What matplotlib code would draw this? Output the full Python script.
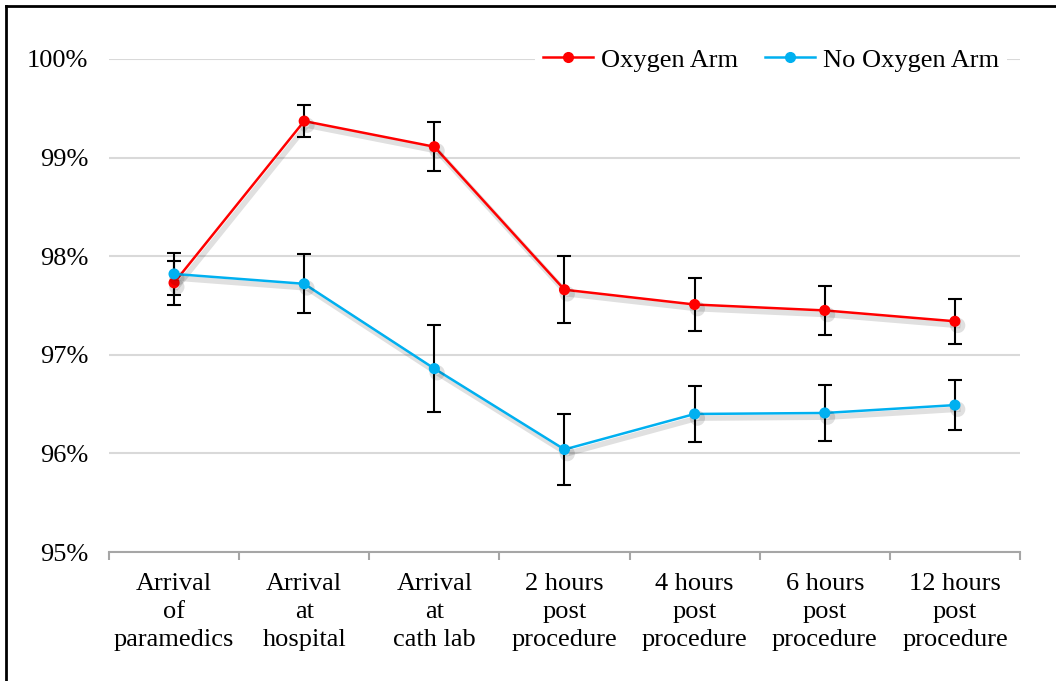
import matplotlib
matplotlib.use("Agg")
import matplotlib.pyplot as plt
import matplotlib.patheffects as pe
from matplotlib.lines import Line2D
import numpy as np

# Oxygen saturation by time point (mean, +/- error)
categories = ["Arrival\nof\nparamedics", "Arrival\nat\nhospital", "Arrival\nat\ncath lab",
              "2 hours\npost\nprocedure", "4 hours\npost\nprocedure",
              "6 hours\npost\nprocedure", "12 hours\npost\nprocedure"]
oxygen_mean = [97.73, 99.37, 99.11, 97.66, 97.51, 97.45, 97.34]
oxygen_err = [0.22, 0.16, 0.25, 0.34, 0.27, 0.25, 0.23]
no_oxygen_mean = [97.82, 97.72, 96.86, 96.04, 96.40, 96.41, 96.49]
no_oxygen_err = [0.21, 0.30, 0.44, 0.36, 0.28, 0.28, 0.25]
y_ticks = [95, 96, 97, 98, 99, 100]

plt.rcParams["font.family"] = ["Liberation Serif", "DejaVu Serif"]

fig = plt.figure(figsize=(10.56, 6.81), dpi=100)
ax = fig.add_axes([0.1032, 0.1894, 0.8627, 0.724])

x = np.arange(len(categories))
# soft drop shadow under the lines, like the original spreadsheet chart
shadow = [pe.SimpleLineShadow(offset=(2, -3), alpha=0.12, shadow_color="black", linewidth=4),
          pe.Normal()]

for mean, err, color, label in [(oxygen_mean, oxygen_err, "#ff0000", "Oxygen Arm"),
                                (no_oxygen_mean, no_oxygen_err, "#00b0f0", "No Oxygen Arm")]:
    ax.errorbar(x, mean, yerr=err, fmt="none", ecolor="black", elinewidth=1.5,
                capsize=5, capthick=1.5, zorder=3)
    ax.plot(x, mean, color=color, lw=1.8, marker="o", markersize=7, label=label,
            zorder=4, path_effects=shadow)

ax.set_xlim(-0.5, len(categories) - 0.5)
ax.set_ylim(95, 100)
ax.set_yticks(y_ticks)
ax.set_yticklabels([f"{t}%" for t in y_ticks], fontsize=19)
ax.set_xticks(x)
ax.set_xticklabels(categories, fontsize=19, linespacing=1.35)
ax.tick_params(axis="x", which="major", length=0, pad=15)
ax.set_xticks(np.arange(-0.5, len(categories), 1), minor=True)
ax.tick_params(axis="x", which="minor", length=6, color="#a6a6a6", width=1.5)
ax.tick_params(axis="y", length=0, pad=15)

ax.grid(axis="y", color="#d9d9d9", lw=1.5)
ax.set_axisbelow(True)
for side in ["top", "right", "left"]:
    ax.spines[side].set_visible(False)
ax.spines["bottom"].set_color("#a6a6a6")
ax.spines["bottom"].set_linewidth(1.5)

leg = ax.legend(loc="upper right", bbox_to_anchor=(1.0, 1.065), ncol=2, fontsize=19,
                frameon=True, handlelength=1.9, handletextpad=0.3, columnspacing=1.0,
                borderpad=0.3)
for h in leg.legend_handles:
    h.set_path_effects([])
leg.get_frame().set_facecolor("white")
leg.get_frame().set_edgecolor("none")
leg.get_frame().set_alpha(1)

# frame around the figure
fig.add_artist(Line2D([6 / 1056, 6 / 1056], [0, 1 - 6 / 681], color="black", lw=2))
fig.add_artist(Line2D([6 / 1056, 1], [1 - 6 / 681, 1 - 6 / 681], color="black", lw=2))

fig.savefig("out.png", dpi=100)
